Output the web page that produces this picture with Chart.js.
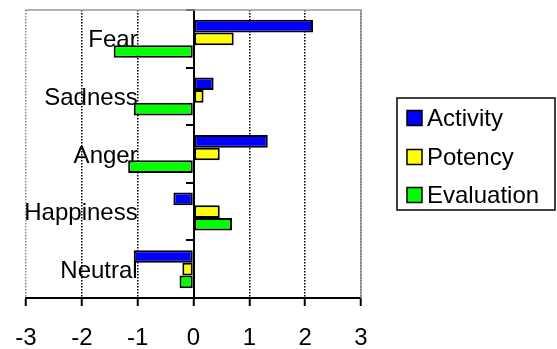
<!DOCTYPE html>
<html>
<head>
<meta charset="utf-8">
<script src="https://cdn.jsdelivr.net/npm/chart.js@4/dist/chart.umd.min.js"></script>
<style>
  html, body { margin: 0; padding: 0; background: #fff; }
  #wrap { width: 557px; height: 349px; }
</style>
</head>
<body>
<div id="wrap"><canvas id="emotionChart" width="557" height="349"></canvas></div>
<script>
const EMOTIONS = ['Fear', 'Sadness', 'Anger', 'Happiness', 'Neutral'];
const ACTIVITY = [2.14, 0.36, 1.33, -0.36, -1.07];
const POTENCY = [0.72, 0.18, 0.47, 0.47, -0.2];
const EVALUATION = [-1.43, -1.07, -1.17, 0.69, -0.25];
const X_MIN = -3;
const X_MAX = 3;

const FONT_FAMILY = '"Liberation Sans", Arial, sans-serif';
const FONT_SIZE = 24;

// scales positioned inside the plot should not push the plot area around
const noEdgePadding = (scale) => {
  scale.paddingTop = 0;
  scale.paddingBottom = 0;
  scale.paddingLeft = 0;
  scale.paddingRight = 0;
};

// legend drawn by hand: Excel-style framed box to the right of the plot
const boxLegend = {
  id: 'boxLegend',
  afterDraw: (chart) => {
    const ctx = chart.ctx;
    const left = 397, top = 98, width = 158, height = 112;
    const rows = [118, 157, 195];
    ctx.save();
    ctx.strokeStyle = '#000';
    ctx.lineWidth = 1.5;
    ctx.strokeRect(left, top, width, height);
    ctx.font = FONT_SIZE + 'px ' + FONT_FAMILY;
    ctx.textAlign = 'left';
    ctx.textBaseline = 'middle';
    chart.data.datasets.forEach((ds, i) => {
      const y = rows[i];
      ctx.fillStyle = ds.backgroundColor;
      ctx.fillRect(407, y - 7.5, 15, 15);
      ctx.strokeRect(407, y - 7.5, 15, 15);
      ctx.fillStyle = '#000';
      ctx.fillText(ds.label, 427, y + 1);
    });
    ctx.restore();
  },
};

// gray frame on top and right of the plot area
const plotFrame = {
  id: 'plotFrame',
  beforeDatasetsDraw: (chart) => {
    const {ctx, chartArea: a} = chart;
    ctx.save();
    ctx.strokeStyle = '#999';
    ctx.lineWidth = 1.5;
    ctx.beginPath();
    ctx.moveTo(a.left, a.top);
    ctx.lineTo(a.right, a.top);
    ctx.lineTo(a.right, a.bottom);
    ctx.stroke();
    ctx.restore();
  },
};

const el = document.getElementById('emotionChart');
new Chart(el, {
  type: 'bar',
  data: {
    labels: EMOTIONS,
    datasets: [
      { label: 'Activity', data: ACTIVITY, backgroundColor: '#0000FF' },
      { label: 'Potency', data: POTENCY, backgroundColor: '#FFFF00' },
      { label: 'Evaluation', data: EVALUATION, backgroundColor: '#00FF00' },
    ],
  },
  options: {
    indexAxis: 'y',
    responsive: false,
    animation: false,
    layout: { padding: { top: 10, left: 26, right: 196, bottom: 0 } },
    datasets: {
      bar: {
        borderColor: '#000',
        borderWidth: 2,
        borderSkipped: false,
        categoryPercentage: 0.66,
        barPercentage: 1,
      },
    },
    plugins: {
      legend: { display: false },
      tooltip: { enabled: false },
    },
    scales: {
      x: {
        min: X_MIN,
        max: X_MAX,
        afterFit: (scale) => {
          noEdgePadding(scale);
          scale.height = 51;
        },
        ticks: {
          stepSize: 1,
          color: '#000',
          padding: 18,
          font: { family: FONT_FAMILY, size: FONT_SIZE },
          maxRotation: 0,
        },
        grid: {
          color: (c) => (c.tick && c.tick.value === 0 ? 'rgba(0,0,0,0)' : (c.tick && c.tick.value === X_MIN ? '#888' : '#000')),
          lineWidth: 1.5,
          tickColor: '#000',
          tickWidth: 2,
          tickLength: 8,
          tickBorderDash: [],
        },
        border: { color: '#000', width: 2, dash: [1.5, 1.5] },
      },
      // zero line with the category tick marks
      y: {
        position: { x: 0 },
        afterFit: noEdgePadding,
        ticks: { display: false },
        grid: {
          drawOnChartArea: false,
          offset: true,
          color: '#000',
          lineWidth: 2,
          tickLength: 7,
        },
        border: { color: '#000', width: 2 },
      },
      // category names, anchored at x = -1 like the original
      yLabels: {
        type: 'category',
        position: { x: -1 },
        offset: true,
        afterFit: noEdgePadding,
        ticks: {
          color: '#000',
          padding: 0,
          labelOffset: 2,
          font: { family: FONT_FAMILY, size: FONT_SIZE },
        },
        grid: { display: false, drawTicks: false, tickLength: 0 },
        border: { display: false },
      },
    },
  },
  plugins: [plotFrame, boxLegend],
});
</script>
</body>
</html>
